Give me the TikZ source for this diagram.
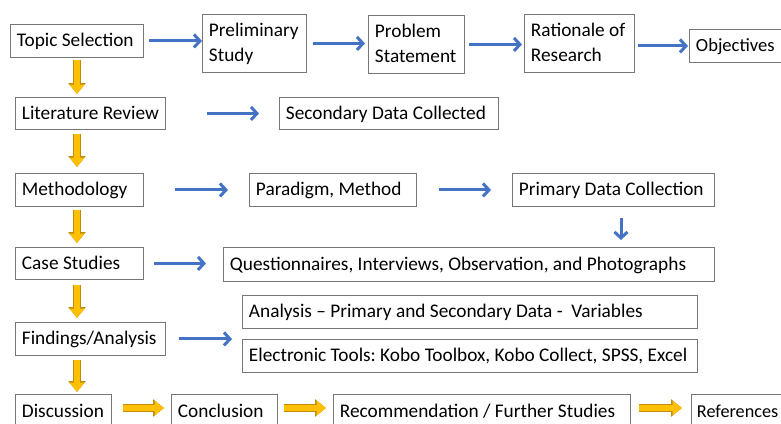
\documentclass[tikz,border=0pt]{standalone}
\usepackage{fontspec}
\setmainfont{Carlito}
\usetikzlibrary{arrows.meta}
\definecolor{boxline}{RGB}{118,118,118}
\definecolor{linkblue}{RGB}{68,114,196}
\definecolor{gold}{RGB}{255,192,0}
\definecolor{goldrim}{RGB}{190,140,10}

% yellow block arrow: dark rim underneath, gold body on top
\newcommand{\goldlink}[4]{%
  \draw[goldedge, shorten <=#3, shorten >=#4] #1 -- #2;
  \draw[goldbody, shorten <=#3, shorten >=#4] #1 -- #2;}

\frenchspacing
\begin{document}
\begin{tikzpicture}[x=1pt, y=-1pt,
  stagebox/.style={draw=boxline, line width=0.9pt, anchor=north west,
    inner xsep=6.5pt, inner ysep=0pt, align=flush left,
    font=\fontsize{19.3}{25}\selectfont, text height=16pt, text depth=4pt},
  twoline/.style={text height=16pt, text depth=29pt},
  bluelink/.style={draw=linkblue, line width=3pt,
    -{Straight Barb[length=6pt, width=13pt]}},
  goldedge/.style={draw=goldrim, line width=7.6pt,
    -{Triangle[length=11pt, width=17pt]}},
  goldbody/.style={draw=gold, line width=6.2pt,
    -{Triangle[length=9.4pt, width=14pt]}}]

\useasboundingbox (0,0) rectangle (781,423);
\clip (0,0) rectangle (781,423);

% main column
\node[stagebox, text width=120pt, minimum height=33pt] (topic) at (10,24) {Topic Selection};
\node[stagebox, text width=137pt, minimum height=32pt] (lit) at (15,97) {Literature Review};
\node[stagebox, text width=115pt, minimum height=33pt] (meth) at (15,173) {Methodology};
\node[stagebox, text width=115pt, minimum height=32pt] (case) at (15,247) {Case Studies};
\node[stagebox, text width=137pt, minimum height=33pt] (findings) at (15,322) {Findings/Analysis};
\node[stagebox, text width=83pt, minimum height=34pt] (disc) at (15,394) {Discussion};

% top row
\node[stagebox, twoline, text width=91pt, minimum height=58pt] (prelim) at (202,14) {Preliminary\\Study};
\node[stagebox, twoline, text width=83pt, minimum height=58pt] (problem) at (368,15) {Problem\\Statement};
\node[stagebox, twoline, text width=97pt, minimum height=58pt] (rationale) at (524,14) {Rationale of\\Research};
\node[stagebox, text width=87pt, minimum height=33pt, font=\fontsize{18.6}{25}\selectfont] (objectives) at (689,29) {Objectives};

% side boxes
\node[stagebox, text width=206pt, minimum height=32pt] (secondary) at (279,97) {Secondary Data Collected};
\node[stagebox, text width=154pt, minimum height=33pt] (paradigm) at (249,173) {Paradigm, Method};
\node[stagebox, text width=189pt, minimum height=33pt] (primary) at (512,173) {Primary Data Collection};
\node[stagebox, text width=478pt, minimum height=34pt] (quest) at (223,247) {Questionnaires, Interviews, Observation, and Photographs};
\node[stagebox, text width=442pt, minimum height=33pt] (analysis) at (242,295) {Analysis -- Primary and Secondary Data -\ \ Variables};
\node[stagebox, text width=442pt, minimum height=33pt] (tools) at (242,339) {Electronic Tools: Kobo Toolbox, Kobo Collect, SPSS, Excel};

% bottom row
\node[stagebox, text width=93pt, minimum height=34pt] (concl) at (171,394) {Conclusion};
\node[stagebox, text width=284pt, minimum height=34pt] (recom) at (333,394) {Recommendation / Further Studies};
\node[stagebox, text width=90pt, minimum height=34pt, inner xsep=5.5pt, font=\fontsize{18.2}{25}\selectfont] (refs) at (691,394) {References};

% guide lines for the arrows
\coordinate (ycol) at (77,0);
\coordinate (dcol) at (621,0);
\coordinate (yrow) at (0,408);

% blue links
\draw[bluelink, shorten <=5pt] (topic.east) -- (topic.east -| prelim.west);
\draw[bluelink, shorten <=6pt, shorten >=3pt] (prelim.east) -- (prelim.east -| problem.west);
\draw[bluelink, shorten <=4pt, shorten >=2pt] (problem.east) -- (problem.east -| rationale.west);
\draw[bluelink, shorten <=3pt, shorten >=1pt] (objectives.west -| rationale.east) -- (objectives.west);
\draw[bluelink, shorten <=41pt, shorten >=20pt] (lit.east) -- (secondary.west);
\draw[bluelink, shorten <=31pt, shorten >=21pt] (meth.east) -- (meth.east -| paradigm.west);
\draw[bluelink, shorten <=22pt, shorten >=21pt] (paradigm.east) -- (primary.west);
\draw[bluelink, shorten <=11pt, shorten >=7pt] (primary.south -| dcol) -- (quest.north -| dcol);
\draw[bluelink, shorten <=10pt, shorten >=17pt] (case.east) -- (case.east -| quest.west);
\draw[bluelink, shorten <=13pt, shorten >=10pt] (findings.east) -- (findings.east -| tools.west);

% yellow links down the main column
\goldlink{(topic.south -| ycol)}{(lit.north -| ycol)}{2pt}{3pt}
\goldlink{(lit.south -| ycol)}{(meth.north -| ycol)}{4pt}{6pt}
\goldlink{(meth.south -| ycol)}{(case.north -| ycol)}{3pt}{4pt}
\goldlink{(case.south -| ycol)}{(findings.north -| ycol)}{5pt}{4pt}
\goldlink{(findings.south -| ycol)}{(disc.north -| ycol)}{4pt}{2pt}

% yellow links along the bottom row
\goldlink{(disc.east |- yrow)}{(concl.west |- yrow)}{11pt}{7pt}
\goldlink{(concl.east |- yrow)}{(recom.west |- yrow)}{6pt}{7pt}
\goldlink{(recom.east |- yrow)}{(refs.west |- yrow)}{8pt}{9pt}
\end{tikzpicture}
\end{document}
